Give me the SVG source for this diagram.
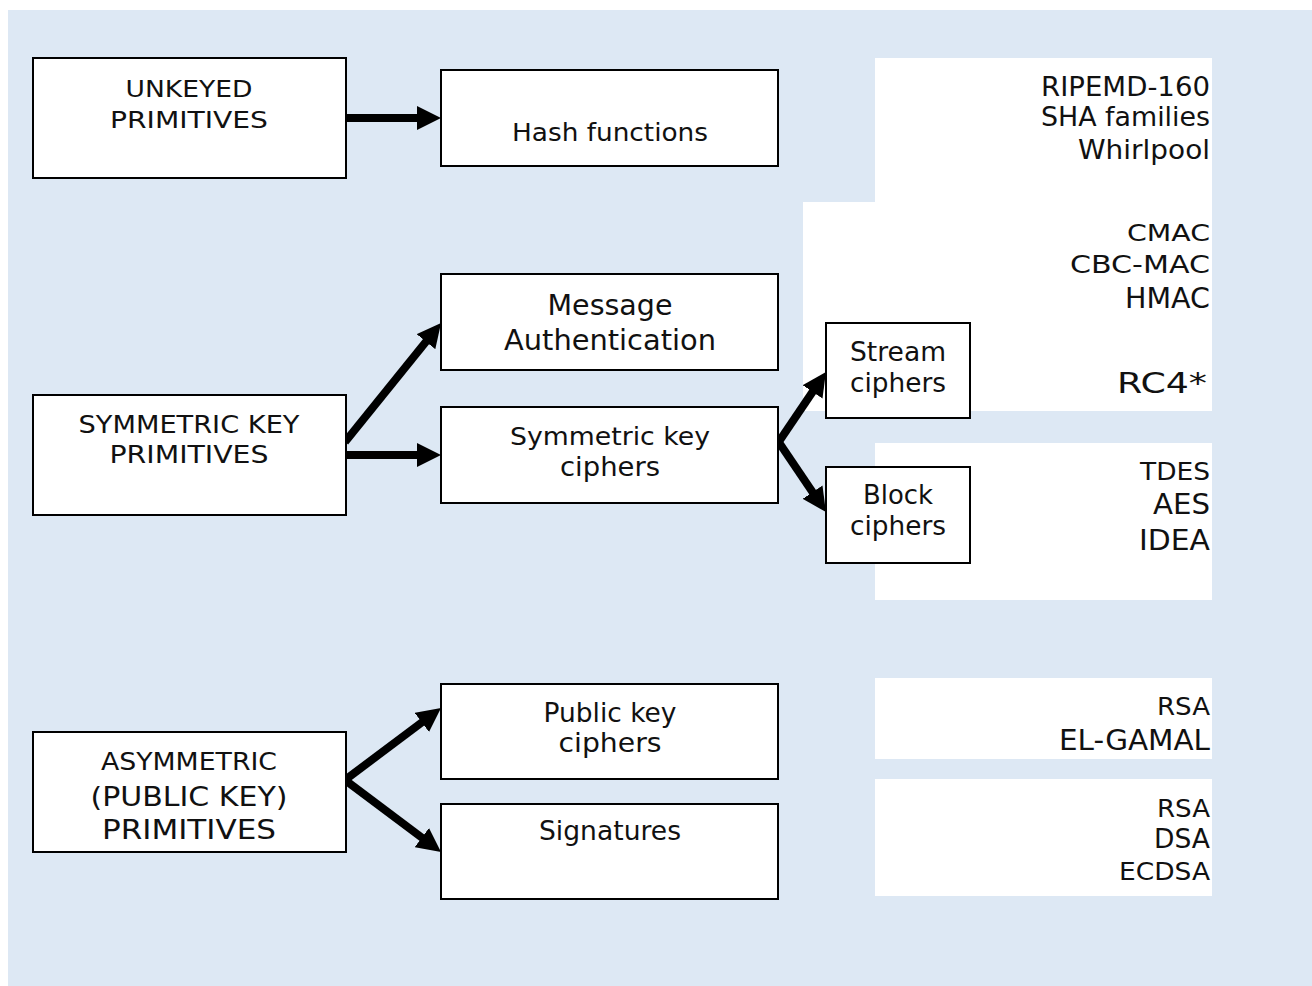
<svg xmlns="http://www.w3.org/2000/svg" width="1312" height="986" viewBox="0 0 1312 986">
<defs>
<style>
.bg{fill:#dde8f4}
.panel{fill:#ffffff}
.box{fill:#ffffff;stroke:#000000;stroke-width:2}
text{font-family:"DejaVu Sans","Verdana","Liberation Sans",sans-serif;fill:#111111}
.c{text-anchor:middle}
.r{text-anchor:end}
.conn{stroke:#000000;stroke-width:8;fill:none}
</style>
<marker id="ah" viewBox="0 0 10 10" refX="4" refY="5" markerWidth="3" markerHeight="3" orient="auto">
<path d="M0,0 L10,5 L0,10 z" fill="#000000"/>
</marker>
</defs>
<rect class="bg" x="8" y="10" width="1304" height="976"/>

<g id="panels">
<rect class="panel" x="875" y="58" width="337" height="145"/>
<rect class="panel" x="803" y="202" width="409" height="209"/>
<rect class="panel" x="875" y="443" width="337" height="157"/>
<rect class="panel" x="875" y="678" width="337" height="81"/>
<rect class="panel" x="875" y="779" width="337" height="117"/>
</g>

<g id="list-hash">
<text class="r" x="1210" y="96" font-size="26" textLength="169" lengthAdjust="spacingAndGlyphs">RIPEMD-160</text>
<text class="r" x="1210" y="126" font-size="26" textLength="169" lengthAdjust="spacingAndGlyphs">SHA families</text>
<text class="r" x="1210" y="159" font-size="26" textLength="132" lengthAdjust="spacingAndGlyphs">Whirlpool</text>
</g>
<g id="list-mac">
<text class="r" x="1210" y="241" font-size="23" textLength="83" lengthAdjust="spacingAndGlyphs">CMAC</text>
<text class="r" x="1210" y="273" font-size="25" textLength="140" lengthAdjust="spacingAndGlyphs">CBC-MAC</text>
<text class="r" x="1210" y="308" font-size="28" textLength="85" lengthAdjust="spacingAndGlyphs">HMAC</text>
<text class="r" x="1207" y="393" font-size="28" textLength="90" lengthAdjust="spacingAndGlyphs">RC4*</text>
</g>
<g id="list-block">
<text class="r" x="1210" y="480" font-size="25" textLength="70" lengthAdjust="spacingAndGlyphs">TDES</text>
<text class="r" x="1210" y="514" font-size="28" textLength="57" lengthAdjust="spacingAndGlyphs">AES</text>
<text class="r" x="1210" y="550" font-size="28" textLength="71" lengthAdjust="spacingAndGlyphs">IDEA</text>
</g>
<g id="list-pk">
<text class="r" x="1210" y="715" font-size="25" textLength="53" lengthAdjust="spacingAndGlyphs">RSA</text>
<text class="r" x="1210" y="750" font-size="29" textLength="151" lengthAdjust="spacingAndGlyphs">EL-GAMAL</text>
</g>
<g id="list-sig">
<text class="r" x="1210" y="817" font-size="25" textLength="53" lengthAdjust="spacingAndGlyphs">RSA</text>
<text class="r" x="1210" y="848" font-size="26" textLength="56" lengthAdjust="spacingAndGlyphs">DSA</text>
<text class="r" x="1210" y="880" font-size="25" textLength="91" lengthAdjust="spacingAndGlyphs">ECDSA</text>
</g>

<g id="connectors">
<line class="conn" x1="346" y1="118" x2="426.6" y2="118" marker-end="url(#ah)"/>
<line class="conn" x1="345" y1="442" x2="432" y2="334.2" marker-end="url(#ah)"/>
<line class="conn" x1="346" y1="455" x2="426.6" y2="455" marker-end="url(#ah)"/>
<line class="conn" x1="778" y1="443" x2="817.9" y2="383.9" marker-end="url(#ah)"/>
<line class="conn" x1="778" y1="441" x2="817.9" y2="500.1" marker-end="url(#ah)"/>
<line class="conn" x1="345" y1="780" x2="429.5" y2="716.6" marker-end="url(#ah)"/>
<line class="conn" x1="345" y1="780" x2="429.5" y2="843.4" marker-end="url(#ah)"/>
</g>

<g id="unkeyed">
<rect class="box" x="33" y="58" width="313" height="120"/>
<text class="c" x="189" y="97" font-size="23" textLength="127" lengthAdjust="spacingAndGlyphs">UNKEYED</text>
<text class="c" x="189" y="128" font-size="23" textLength="158" lengthAdjust="spacingAndGlyphs">PRIMITIVES</text>
</g>
<g id="symmetric">
<rect class="box" x="33" y="395" width="313" height="120"/>
<text class="c" x="189" y="433" font-size="24" textLength="221" lengthAdjust="spacingAndGlyphs">SYMMETRIC KEY</text>
<text class="c" x="189" y="463" font-size="24" textLength="159" lengthAdjust="spacingAndGlyphs">PRIMITIVES</text>
</g>
<g id="asymmetric">
<rect class="box" x="33" y="732" width="313" height="120"/>
<text class="c" x="189" y="770" font-size="25" textLength="176" lengthAdjust="spacingAndGlyphs">ASYMMETRIC</text>
<text class="c" x="189" y="806" font-size="26.5" textLength="197" lengthAdjust="spacingAndGlyphs">(PUBLIC KEY)</text>
<text class="c" x="189" y="839" font-size="26.5" textLength="174" lengthAdjust="spacingAndGlyphs">PRIMITIVES</text>
</g>
<g id="hash">
<rect class="box" x="441" y="70" width="337" height="96"/>
<text class="c" x="610" y="141" font-size="24" textLength="196" lengthAdjust="spacingAndGlyphs">Hash functions</text>
</g>
<g id="mac">
<rect class="box" x="441" y="274" width="337" height="96"/>
<text class="c" x="610" y="315" font-size="29" textLength="125" lengthAdjust="spacingAndGlyphs">Message</text>
<text class="c" x="610" y="350" font-size="29" textLength="212" lengthAdjust="spacingAndGlyphs">Authentication</text>
</g>
<g id="symciphers">
<rect class="box" x="441" y="407" width="337" height="96"/>
<text class="c" x="610" y="445" font-size="25.5" textLength="200" lengthAdjust="spacingAndGlyphs">Symmetric key</text>
<text class="c" x="610" y="476" font-size="26" textLength="100" lengthAdjust="spacingAndGlyphs">ciphers</text>
</g>
<g id="stream">
<rect class="box" x="826" y="323" width="144" height="95"/>
<text class="c" x="898" y="361" font-size="26" textLength="96" lengthAdjust="spacingAndGlyphs">Stream</text>
<text class="c" x="898" y="392" font-size="26" textLength="96" lengthAdjust="spacingAndGlyphs">ciphers</text>
</g>
<g id="block">
<rect class="box" x="826" y="467" width="144" height="96"/>
<text class="c" x="898" y="504" font-size="26" textLength="70" lengthAdjust="spacingAndGlyphs">Block</text>
<text class="c" x="898" y="535" font-size="26" textLength="96" lengthAdjust="spacingAndGlyphs">ciphers</text>
</g>
<g id="pkciphers">
<rect class="box" x="441" y="684" width="337" height="95"/>
<text class="c" x="610" y="722" font-size="26.5" textLength="133" lengthAdjust="spacingAndGlyphs">Public key</text>
<text class="c" x="610" y="752" font-size="26.5" textLength="103" lengthAdjust="spacingAndGlyphs">ciphers</text>
</g>
<g id="signatures">
<rect class="box" x="441" y="804" width="337" height="95"/>
<text class="c" x="610" y="840" font-size="26.5" textLength="142" lengthAdjust="spacingAndGlyphs">Signatures</text>
</g>
</svg>
